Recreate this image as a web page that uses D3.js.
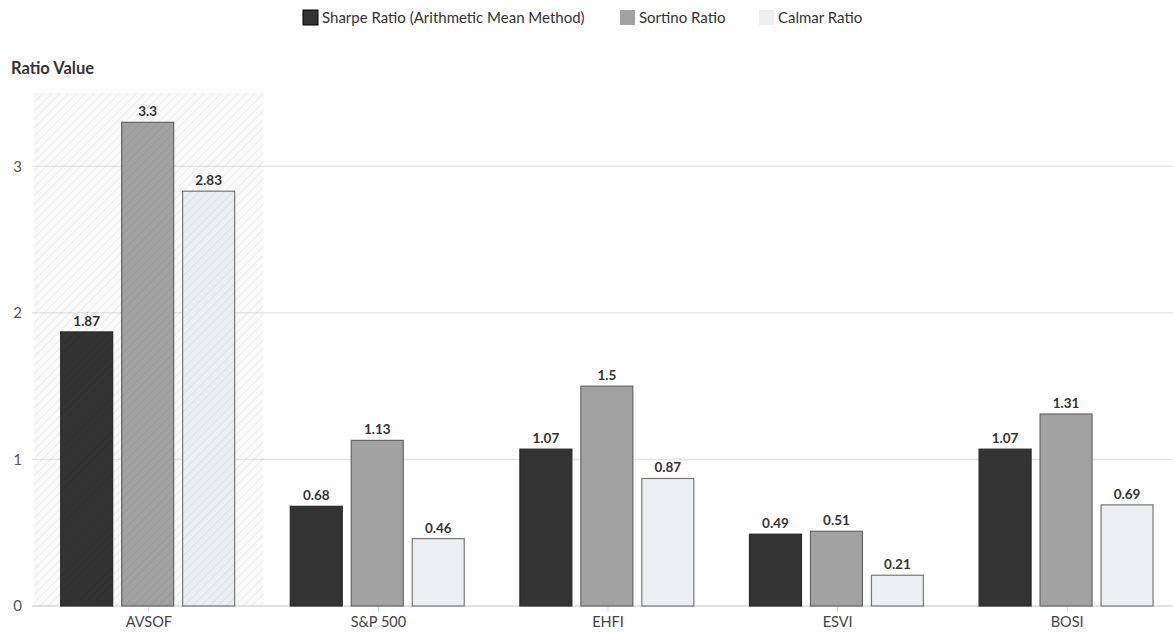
<!DOCTYPE html>
<html>
<head>
<meta charset="utf-8">
<script src="https://cdn.jsdelivr.net/npm/d3@7/dist/d3.min.js"></script>
<style>
  html, body { margin: 0; padding: 0; background: #fff; }
  svg { display: block; font-family: "Lato", "Noto Sans", sans-serif; }
</style>
</head>
<body>
<svg id="chart" width="1173" height="632"></svg>
<script>
const categories = ["AVSOF", "S&P 500", "EHFI", "ESVI", "BOSI"];
const seriesNames = ["Sharpe Ratio (Arithmetic Mean Method)", "Sortino Ratio", "Calmar Ratio"];
const sharpe  = [1.87, 0.68, 1.07, 0.49, 1.07];
const sortino = [3.3, 1.13, 1.5, 0.51, 1.31];
const calmar  = [2.83, 0.46, 0.87, 0.21, 0.69];
const yTicks = [0, 1, 2, 3];
const highlighted = "AVSOF";

const seriesValues = [sharpe, sortino, calmar];
const fills = ["#333333", "#a2a2a2", "#eceef1"];
const strokes = ["#2a2a2a", "#666666", "#777777"];

const svg = d3.select("#chart");
const margin = { left: 34, right: -9, top: 93, bottom: 26 };
const W = 1173, H = 632;

const x0 = d3.scaleBand().domain(categories).range([margin.left, W - margin.right]).padding(0);
const bw = x0.bandwidth();
const x1 = d3.scaleBand().domain(seriesNames).range([bw * 0.114, bw * 0.876]).paddingInner(0.131).paddingOuter(0);
const y = d3.scaleLinear().domain([0, 3.5]).range([H - margin.bottom, margin.top]);

// hatch pattern
const defs = svg.append("defs");
const pat = defs.append("pattern").attr("id", "hatch").attr("patternUnits", "userSpaceOnUse")
  .attr("width", 6).attr("height", 6).attr("patternTransform", "rotate(45)");
pat.append("line").attr("x1", 0).attr("y1", 0).attr("x2", 0).attr("y2", 6)
  .attr("stroke", "#000").attr("stroke-opacity", 0.08).attr("stroke-width", 1.2);

// highlighted band background
svg.append("rect")
  .attr("x", x0(highlighted)).attr("y", y(3.5))
  .attr("width", bw).attr("height", y(0) - y(3.5))
  .attr("fill", "#fafafa");

// gridlines
const grid = svg.append("g");
grid.selectAll("line").data(yTicks).join("line")
  .attr("x1", margin.left - 2).attr("x2", W)
  .attr("y1", d => y(d)).attr("y2", d => y(d))
  .attr("stroke", d => d === 0 ? "#d9d9d9" : "#e6e6e6").attr("stroke-width", 1.5);

// y axis labels
svg.append("g").selectAll("text").data(yTicks).join("text")
  .attr("x", 22).attr("y", d => y(d)).attr("dy", "0.35em")
  .attr("text-anchor", "end").attr("font-size", 15).attr("fill", "#555")
  .text(d => d);

// y axis title
svg.append("text").attr("x", 11).attr("y", 74)
  .attr("font-size", 16.5).attr("font-weight", 700).attr("fill", "#333")
  .text("Ratio Value");

// x axis
const xAxis = svg.append("g").attr("transform", `translate(0,${y(0)})`)
  .call(d3.axisBottom(x0).tickSize(6).tickPadding(5));
xAxis.select(".domain").remove();
xAxis.selectAll(".tick line").attr("stroke", "#ddd");
xAxis.selectAll(".tick text").attr("font-size", 14.5).attr("fill", "#444")
  .attr("font-family", "Lato, 'Noto Sans', sans-serif");

// bars
const data = [];
categories.forEach((c, i) => {
  seriesNames.forEach((s, j) => data.push({ cat: c, series: s, si: j, value: seriesValues[j][i] }));
});

const groups = svg.append("g");
groups.selectAll("rect").data(data).join("rect")
  .attr("x", d => x0(d.cat) + x1(d.series) + 0.5)
  .attr("y", d => y(d.value))
  .attr("width", x1.bandwidth() - 1)
  .attr("height", d => y(0) - y(d.value))
  .attr("fill", d => fills[d.si])
  .attr("stroke", d => strokes[d.si])
  .attr("stroke-width", 1.2);

// hatch overlay on highlighted band
svg.append("rect")
  .attr("x", x0(highlighted)).attr("y", y(3.5))
  .attr("width", bw).attr("height", y(0) - y(3.5))
  .attr("fill", "url(#hatch)");

// value labels
groups.selectAll("text").data(data).join("text")
  .attr("x", d => x0(d.cat) + x1(d.series) + x1.bandwidth() / 2)
  .attr("y", d => y(d.value) - 6)
  .attr("text-anchor", "middle").attr("font-size", 13.5).attr("font-weight", 700)
  .attr("fill", "#333")
  .text(d => d.value);

// legend
const legendX = [303, 620, 759];
const legend = svg.append("g");
seriesNames.forEach((s, j) => {
  const g = legend.append("g").attr("transform", `translate(${legendX[j]},10)`);
  g.append("rect").attr("width", 15).attr("height", 15)
    .attr("fill", fills[j]).attr("stroke", j === 0 ? "#000" : "none");
  g.append("text").attr("x", 19).attr("y", 7.5).attr("dy", "0.35em")
    .attr("font-size", 15).attr("fill", "#333").text(s);
});
</script>
</body>
</html>
